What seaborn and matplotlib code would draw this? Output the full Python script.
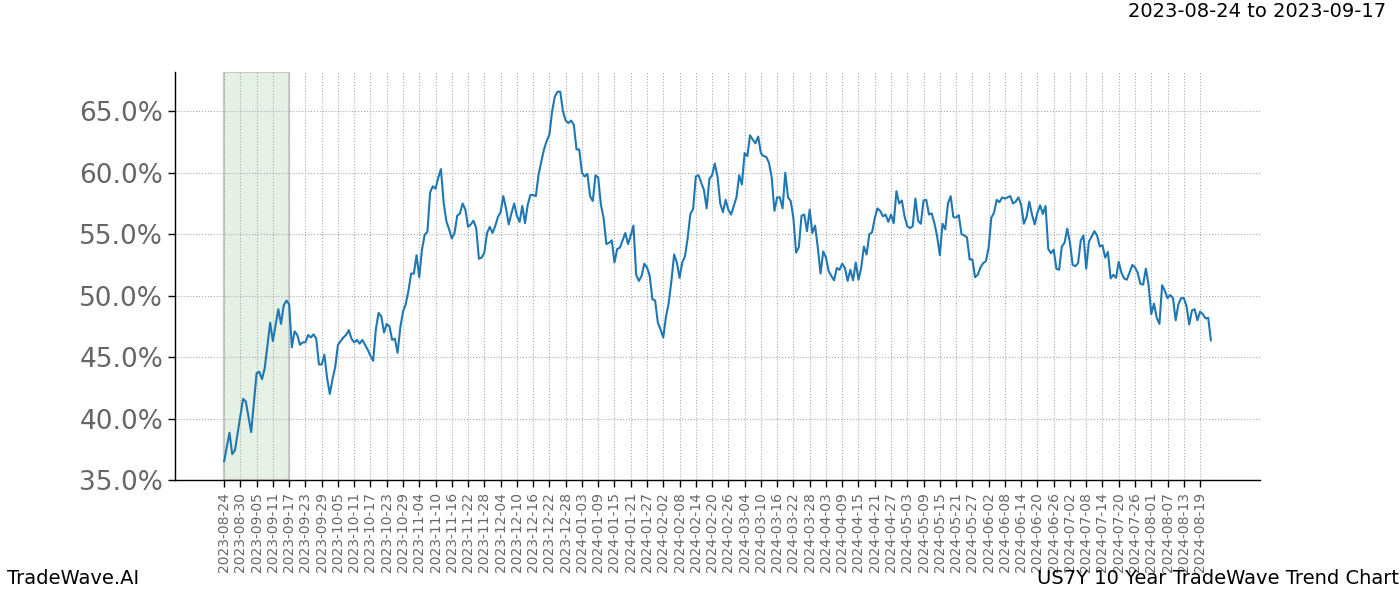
import matplotlib
matplotlib.use("Agg")
import matplotlib.pyplot as plt
import matplotlib.ticker as mticker
import seaborn as sns
import pandas as pd
import numpy as np

start_date = "2023-08-24"
end_date = "2024-08-31"
highlight_start = "2023-08-24"
highlight_end = "2023-09-17"

# position offsets (calendar days without Feb 29) from start_date: sparse early part, then daily
early_days = [0, 2, 3, 4, 7, 8, 10, 12, 13, 14, 15, 17, 18, 20, 21, 22, 23, 24, 25,
              26, 27, 28, 29, 30, 31, 32, 33, 34, 35, 36, 37, 38, 39, 40, 41, 42, 43,
              44, 45, 46, 47, 48, 49, 50, 51, 52, 53, 54, 55, 56, 57, 58]
early_vals = [36.5, 38.85, 37.1, 37.4, 41.6, 41.4, 38.9, 43.7, 43.8, 43.2, 44.1, 47.8, 46.3,
              48.9, 47.7, 49.2, 49.6, 49.3, 45.8, 47.1, 46.8, 46.0, 46.2, 46.2, 46.8, 46.6,
              46.85, 46.5, 44.4, 44.4, 45.2, 43.3, 42.0, 43.2, 44.2, 46.0, 46.3, 46.6, 46.8,
              47.2, 46.5, 46.2, 46.4, 46.1, 46.4, 46.0, 45.6, 45.1, 44.7, 47.3, 48.6, 48.3]

daily_first_day = 59
daily_vals = [
    47.0, 47.7, 47.5, 46.4, 46.5, 45.35, 47.4, 48.7, 49.3, 50.4,
    51.8, 51.8, 53.3, 51.5, 53.75, 54.95, 55.2, 58.4, 58.9, 58.7,
    59.6, 60.3, 57.55, 56.05, 55.4, 54.65, 55.1, 56.5, 56.7, 57.5,
    57.0, 55.6, 55.8, 56.1, 55.5, 53.0, 53.1, 53.5, 55.1, 55.6,
    55.1, 55.65, 56.4, 56.8, 58.1, 57.1, 55.8, 56.7, 57.5, 56.5,
    56.0, 57.3, 55.9, 57.4, 58.2, 58.2, 58.1, 59.85, 60.9, 61.9,
    62.6, 63.1,
    65.0, 66.2, 66.6, 66.6, 65.0, 64.25, 64.05, 64.25, 63.9, 61.9,
    61.9, 60.0, 59.7, 59.9, 58.1, 57.7, 59.8, 59.6, 57.4, 56.3,
    54.2, 54.3, 54.5, 52.7, 53.8, 53.9, 54.5, 55.1, 54.2, 54.9,
    55.7, 51.7, 51.2, 51.6, 52.6, 52.3, 51.6, 49.7, 49.6, 47.8,
    47.25, 46.6, 48.3, 49.4, 51.2, 53.35, 52.7, 51.45, 52.7, 53.2,
    54.7, 56.65, 57.05, 59.7, 59.8, 59.2, 58.6, 57.1, 59.5, 59.8,
    60.75, 59.7, 57.5,
    56.8, 57.8, 57.0, 56.6, 57.3, 58.0, 59.8, 59.05, 61.6, 61.35,
    63.05, 62.7, 62.4, 62.95, 61.6, 61.35, 61.3, 60.8, 59.6, 56.9,
    58.0, 58.0, 57.1, 60.0, 58.0, 57.7, 56.3, 53.5, 53.95, 56.5,
    56.6, 55.25, 57.0, 55.1, 55.7, 53.9, 51.8, 53.6, 53.1, 52.0,
    51.6, 51.25, 52.25, 52.1, 52.6, 52.25, 51.2, 52.1, 51.25, 52.7,
    51.3, 52.25, 54.0, 53.35, 55.0, 55.15, 56.3, 57.1, 56.9, 56.45,
    56.6,
    56.0, 56.6, 55.9, 58.5, 57.5, 57.75, 56.45, 55.65, 55.5, 55.65,
    57.9, 56.1, 55.85, 57.75, 57.8, 56.6, 56.7, 55.9, 54.85, 53.3,
    55.85, 55.4, 57.5, 58.1, 56.4, 56.35, 56.55, 55.0, 54.9, 54.75,
    52.95, 52.95, 51.5, 51.7, 52.3, 52.65, 52.8, 53.9, 56.35, 56.75,
    57.8, 57.6, 58.0, 57.9, 58.0, 58.1, 57.5, 57.65, 58.0, 57.4,
    55.85, 56.4, 57.65, 56.6, 55.8, 56.75, 57.35, 56.65, 57.3, 53.8,
    53.45,
    53.75, 52.2, 52.1, 54.0, 54.3, 55.45, 54.3, 52.5, 52.4, 52.65,
    54.5, 54.9, 52.2, 54.4, 54.8, 55.25, 54.9, 54.0, 54.1, 53.1,
    53.55, 51.4, 51.7, 51.45, 52.75, 51.85, 51.4, 51.3, 51.9, 52.5,
    52.3, 51.85, 50.95, 50.9, 52.2, 50.9, 48.5, 49.35, 48.2, 47.7,
    50.85, 50.4, 49.8, 50.05, 49.8, 48.0, 49.3, 49.8, 49.8, 49.15,
    47.65, 48.8, 48.9, 48.0, 48.7, 48.5, 48.15, 48.2, 46.35,
]

y_ticks = [35, 40, 45, 50, 55, 60, 65]
tick_every = 6
tick_last = "2024-08-19"

# calendar without Feb 29 (axis positions)
cal = pd.date_range(start_date, end_date, freq="D")
cal = cal[~((cal.month == 2) & (cal.day == 29))]
cal_labels = [d.strftime("%Y-%m-%d") for d in cal]

pos = early_days + list(range(daily_first_day, daily_first_day + len(daily_vals)))
vals = early_vals + daily_vals
df = pd.DataFrame({"pos": pos, "value": vals})

sns.set_style("white")
plt.rcParams["font.family"] = ["DejaVu Sans"]

fig = plt.figure(figsize=(14, 6), dpi=100)
ax = fig.add_axes([0.125, 0.2, 0.775, 0.68])

hs = cal_labels.index(highlight_start)
he = cal_labels.index(highlight_end)
ax.axvspan(hs, he, facecolor="#e5f1e4", edgecolor="#c8ccc8", linewidth=1.5, zorder=0)

sns.lineplot(data=df, x="pos", y="value", ax=ax, color="#1f77b4", linewidth=1.5, zorder=3)

last_idx = cal_labels.index(tick_last)
ticks = list(range(0, last_idx + 1, tick_every))
ax.set_xticks(ticks)
ax.set_xticklabels([cal_labels[i] for i in ticks], rotation=90, fontsize=10, color="#666666")
ax.set_xlim(-18.1, 382.1)
ax.set_ylim(35, 68.2)

ax.set_yticks(y_ticks)
ax.yaxis.set_major_formatter(mticker.FuncFormatter(lambda v, p: f"{v:.1f}%"))
ax.tick_params(axis="y", labelsize=19, labelcolor="#666666", length=5, width=1, color="black", left=True)
ax.tick_params(axis="x", length=5, width=1, color="black", bottom=True)

ax.grid(True, which="major", color="#aaaaaa", linestyle=":", linewidth=0.8)
ax.set_axisbelow(True)
for s in ["top", "right"]:
    ax.spines[s].set_visible(False)
for s in ["left", "bottom"]:
    ax.spines[s].set_color("black")
    ax.spines[s].set_linewidth(1)
ax.set_xlabel("")
ax.set_ylabel("")

fig.text(0.99, 0.965, "2023-08-24 to 2023-09-17", ha="right", va="bottom", fontsize=14, color="black")
fig.text(0.005, 0.02, "TradeWave.AI", ha="left", va="bottom", fontsize=14, color="black")
fig.text(0.999, 0.02, "US7Y 10 Year TradeWave Trend Chart", ha="right", va="bottom", fontsize=14, color="black")

fig.savefig("out.png", dpi=100)
